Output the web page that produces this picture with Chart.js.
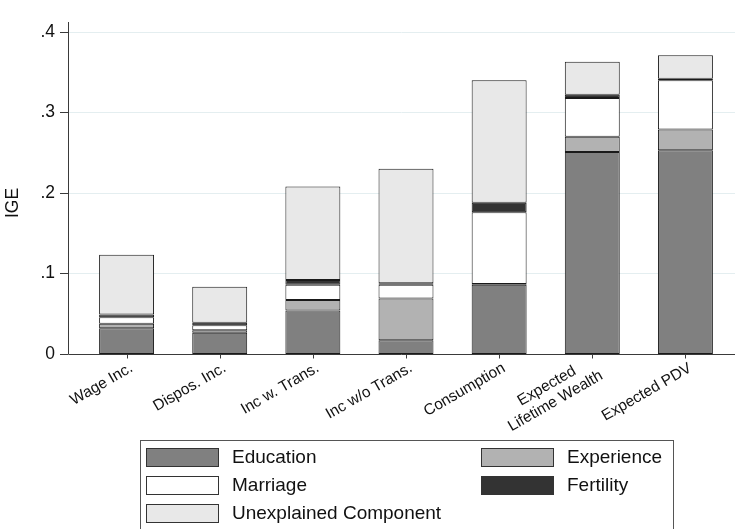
<!DOCTYPE html>
<html>
<head>
<meta charset="utf-8">
<script src="https://cdn.jsdelivr.net/npm/chart.js@4/dist/chart.umd.min.js"></script>
<style>
  body { margin: 0; background: #fff; font-family: "Liberation Sans", Arial, sans-serif; overflow: hidden; }
  #wrap { position: relative; width: 735px; height: 529px; overflow: hidden; }
  #legend { position: absolute; left: 140px; top: 440px; width: 534px; height: 110px; border: 1px solid #555; box-sizing: border-box; }
  .item { position: absolute; display: flex; align-items: center; height: 22px; font-size: 19px; color: #111; white-space: nowrap; }
  .swatch { width: 73px; height: 19px; border: 1px solid #333; box-sizing: border-box; margin-right: 13px; }
</style>
</head>
<body>
<div id="wrap">
  <canvas id="myChart" width="735" height="529"></canvas>
  <div id="legend"></div>
</div>
<script>
// categories and stacked components (IGE)
const categories = ['Wage Inc.', 'Dispos. Inc.', 'Inc w. Trans.', 'Inc w/o Trans.', 'Consumption', ['Expected', 'Lifetime Wealth'], 'Expected PDV'];
const education   = [0.032, 0.0265, 0.054, 0.017, 0.086, 0.251, 0.253];
const experience  = [0.0055, 0.003, 0.013, 0.052, 0.001, 0.019, 0.026];
const marriage    = [0.008, 0.0063, 0.019, 0.017, 0.089, 0.048, 0.061];
const fertility   = [0.0037, 0.003, 0.006, 0.002, 0.012, 0.004, 0.002];
const unexplained = [0.074, 0.0448, 0.116, 0.142, 0.152, 0.041, 0.029];
const yTicks = [0, 0.1, 0.2, 0.3, 0.4];

const series = [
    { label: 'Education', data: education, color: '#808080' },
    { label: 'Experience', data: experience, color: '#b2b2b2' },
    { label: 'Marriage', data: marriage, color: '#ffffff' },
    { label: 'Fertility', data: fertility, color: '#333333' },
    { label: 'Unexplained Component', data: unexplained, color: '#e8e8e8' }
];

const FONT = '"Liberation Sans", Arial, sans-serif';

// stata-like axes: axis line sits left of the plot area, centred multi-line labels at 30 deg
const AXIS_X = 68;
const stataAxes = {
    id: 'stataAxes',
    beforeDatasetsDraw(chart) {
        const ctx = chart.ctx, y = chart.scales.y;
        ctx.save();
        ctx.strokeStyle = '#e4eef0';
        ctx.lineWidth = 1;
        yTicks.forEach(v => {
            if (v === 0) return;
            const py = Math.round(y.getPixelForValue(v)) + 0.5;
            ctx.beginPath(); ctx.moveTo(AXIS_X, py); ctx.lineTo(735, py); ctx.stroke();
        });
        ctx.restore();
    },
    afterDatasetsDraw(chart) {
        const ctx = chart.ctx, y = chart.scales.y, x = chart.scales.x;
        const bottom = Math.round(chart.chartArea.bottom) + 0.5;
        ctx.save();
        ctx.strokeStyle = '#3a3a3a';
        ctx.lineWidth = 1;
        ctx.beginPath();
        ctx.moveTo(AXIS_X + 0.5, chart.chartArea.top);
        ctx.lineTo(AXIS_X + 0.5, bottom);
        ctx.lineTo(735, bottom);
        ctx.stroke();
        yTicks.forEach(v => {
            const py = Math.round(y.getPixelForValue(v)) + 0.5;
            ctx.beginPath(); ctx.moveTo(AXIS_X - 8, py); ctx.lineTo(AXIS_X, py); ctx.stroke();
        });
        categories.forEach((c, i) => {
            const px = Math.round(x.getPixelForTick(i)) + 0.5;
            ctx.beginPath(); ctx.moveTo(px, bottom); ctx.lineTo(px, bottom + 4); ctx.stroke();
        });
        ctx.fillStyle = '#111';

        // category labels
        ctx.font = '15.5px ' + FONT;
        ctx.textAlign = 'center';
        ctx.textBaseline = 'middle';
        categories.forEach((c, i) => {
            const lines = Array.isArray(c) ? c : [c];
            const w = Math.max(...lines.map(l => ctx.measureText(l).width));
            ctx.save();
            ctx.translate(x.getPixelForTick(i) + 5, bottom + 12.5);
            ctx.rotate(-Math.PI / 6);
            lines.forEach((l, k) => ctx.fillText(l, -w / 2, (k - (lines.length - 1) / 2) * 17.5));
            ctx.restore();
        });

        // axis title
        ctx.translate(13, 203);
        ctx.rotate(-Math.PI / 2);
        ctx.font = '17.5px ' + FONT;
        ctx.fillText('IGE', 0, 0);
        ctx.restore();
    }
};

const ctx = document.getElementById('myChart').getContext('2d');
const chart = new Chart(ctx, {
    type: 'bar',
    data: {
        labels: categories,
        datasets: series.map(s => ({
            label: s.label,
            data: s.data,
            backgroundColor: s.color,
            borderColor: '#1a1a1a',
            borderWidth: 1,
            borderSkipped: false,
            barPercentage: 0.59,
            categoryPercentage: 1
        }))
    },
    options: {
        responsive: false,
        animation: false,
        layout: { padding: { top: 22, right: 3, left: 0, bottom: 0 } },
        plugins: { legend: { display: false }, tooltip: { enabled: false } },
        scales: {
            x: {
                stacked: true,
                grid: { display: false, drawTicks: false },
                border: { display: false },
                ticks: { display: false },
                afterFit(scale) { scale.height = 175; scale.paddingLeft = 0; scale.paddingRight = 0; }
            },
            y: {
                stacked: true,
                min: 0,
                max: 0.4124,
                grid: { display: false, drawTicks: false },
                border: { display: false },
                afterBuildTicks(scale) { scale.ticks = yTicks.map(v => ({ value: v })); },
                ticks: {
                    color: '#111',
                    font: { family: 'Liberation Sans', size: 17.5 },
                    padding: 25,
                    callback: v => v === 0 ? '0' : v.toFixed(1).replace(/^0/, '')
                },
                afterFit(scale) { scale.width = 80; scale.paddingTop = 0; scale.paddingBottom = 0; }
            }
        }
    },
    plugins: [stataAxes]
});

// legend, two columns
const legend = document.getElementById('legend');
series.forEach((s, i) => {
    const col = i % 2, row = Math.floor(i / 2);
    const item = document.createElement('div');
    item.className = 'item';
    item.style.left = (col === 0 ? 5 : 340) + 'px';
    item.style.top = (457 - 440 - 1 - 11 + row * 28) + 'px';
    item.innerHTML = '<span class="swatch" style="background:' + s.color + '"></span>' + s.label;
    legend.appendChild(item);
});
</script>
</body>
</html>
